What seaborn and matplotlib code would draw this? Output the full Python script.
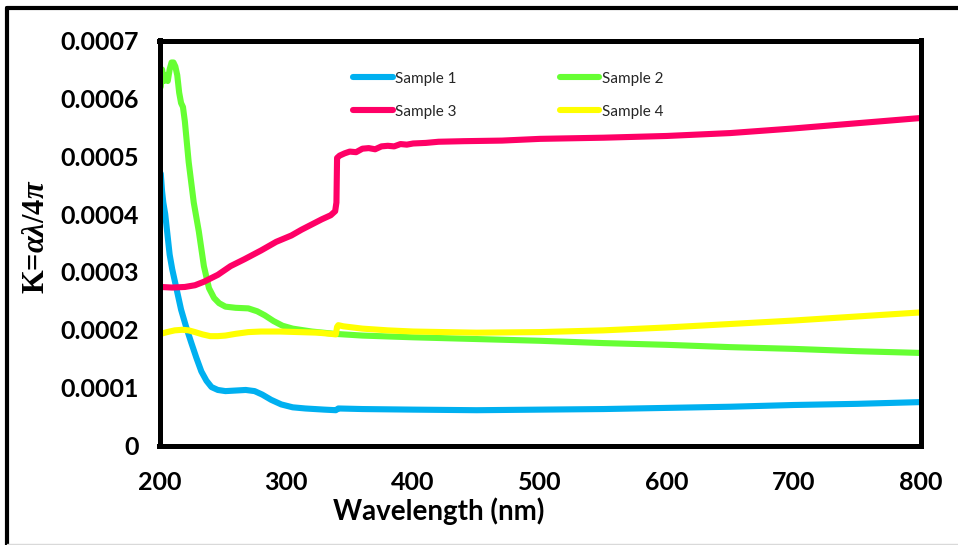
import numpy as np
import pandas as pd
import matplotlib
matplotlib.use("Agg")
import matplotlib.pyplot as plt
from matplotlib.lines import Line2D
import seaborn as sns

# ---- data: extinction coefficient K versus wavelength ----
s1_wl = [201, 202, 203, 204.5, 206, 208, 210, 213, 217, 221, 225, 229, 233, 237, 241,
         246, 252, 260, 268, 275, 281, 288, 296, 305, 315, 330, 339, 341, 360, 400,
         450, 500, 550, 600, 650, 700, 750, 800]
s1_k = [0.00047, 0.00044, 0.00042, 0.00040, 0.00037, 0.00033, 0.000305, 0.000275,
        0.000235, 0.000205, 0.000178, 0.000152, 0.000128, 0.000112, 0.000101,
        0.000096, 0.000094, 0.000095, 0.000096, 0.000094, 0.000088, 0.000079,
        0.000071, 0.000066, 0.000064, 0.000062, 0.000061, 0.000064, 0.000063,
        0.000062, 0.000061, 0.000062, 0.000063, 0.000065, 0.000067, 0.00007,
        0.000072, 0.000075]

s2_wl = [201, 202, 203.5, 205, 206.5, 208, 209.5, 211, 212.5, 214, 215.5, 217, 218.5,
         220, 223, 227, 231, 235, 239, 243, 247, 252, 260, 270, 277, 283, 290, 297,
         305, 320, 338, 360, 400, 450, 500, 550, 600, 650, 700, 750, 800]
s2_k = [0.00062, 0.00065, 0.00063, 0.00064, 0.00063, 0.00065, 0.000662, 0.000662,
        0.000655, 0.00064, 0.00061, 0.000592, 0.000585, 0.00056, 0.00049, 0.00042,
        0.00037, 0.00031, 0.000272, 0.000255, 0.000246, 0.00024, 0.000238,
        0.000237, 0.000232, 0.000225, 0.000215, 0.000207, 0.000202, 0.000197,
        0.000193, 0.00019, 0.000187, 0.000184, 0.000181, 0.000177, 0.000174,
        0.00017, 0.000167, 0.000163, 0.00016]

s3_wl = [201, 210, 220, 228, 235, 246, 256, 267, 280, 292, 304, 312, 320, 328, 335,
         338.5, 339.5, 340, 342, 346, 350, 355, 360, 365, 370, 375, 380, 385, 390,
         395, 400, 410, 420, 440, 470, 500, 550, 600, 650, 700, 750, 800]
s3_k = [0.000274, 0.000273, 0.000274, 0.000277, 0.000283, 0.000295, 0.00031,
        0.000322, 0.000337, 0.000352, 0.000363, 0.000373, 0.000382, 0.000391,
        0.000398, 0.000405, 0.00042, 0.000497, 0.000501, 0.000505, 0.000508,
        0.000507, 0.000513, 0.000514, 0.000512, 0.000517, 0.000518, 0.000517,
        0.000521, 0.00052, 0.000522, 0.000523, 0.000525, 0.000526, 0.000527,
        0.00053, 0.000532, 0.000535, 0.00054, 0.000548, 0.000557, 0.000566]

s4_wl = [201, 206, 212, 218, 223, 228, 234, 240, 246, 252, 260, 270, 280, 295, 310,
         325, 335, 339, 340, 341, 345, 360, 380, 400, 450, 500, 550, 600, 650, 700,
         750, 800]
s4_k = [0.000193, 0.000196, 0.000199, 0.0002, 0.000199, 0.000196, 0.000192,
        0.000189, 0.000189, 0.00019, 0.000193, 0.000196, 0.000197, 0.000197,
        0.000196, 0.000195, 0.000193, 0.000192, 0.000205, 0.000208, 0.000206,
        0.000202, 0.000199, 0.000197, 0.000195, 0.000196, 0.000199, 0.000204,
        0.00021, 0.000216, 0.000223, 0.00023]

sample_names = ["Sample 1", "Sample 2", "Sample 3", "Sample 4"]
sample_colors = ["#00B0F0", "#66FF33", "#FF0066", "#FFFF00"]

x_ticks = [200, 300, 400, 500, 600, 700, 800]
y_ticks = [0, 0.0001, 0.0002, 0.0003, 0.0004, 0.0005, 0.0006, 0.0007]
y_tick_labels = ["0", "0.0001", "0.0002", "0.0003", "0.0004", "0.0005", "0.0006", "0.0007"]

frames = []
for name, wl, k in zip(sample_names, [s1_wl, s2_wl, s3_wl, s4_wl], [s1_k, s2_k, s3_k, s4_k]):
    frames.append(pd.DataFrame({"wavelength": wl, "K": k, "sample": name}))
df = pd.concat(frames, ignore_index=True)

# ---- style ----
sns.set_theme(style="white")
plt.rcParams["font.family"] = ["Lato", "DejaVu Sans"]
plt.rcParams["mathtext.fontset"] = "custom"
plt.rcParams["mathtext.rm"] = "Liberation Serif:bold"
plt.rcParams["mathtext.it"] = "Liberation Serif:italic:bold"
plt.rcParams["mathtext.bf"] = "Liberation Serif:bold"

fig = plt.figure(figsize=(9.58, 5.45), dpi=100)
ax = fig.add_axes([159.5 / 958, 1 - 445.5 / 545, 761 / 958, 405 / 545])

sns.lineplot(data=df, x="wavelength", y="K", hue="sample", hue_order=sample_names,
             palette=sample_colors, estimator=None, sort=False, linewidth=4.4,
             ax=ax, legend=False)
for ln in ax.get_lines():
    ln.set_solid_capstyle("round")
    ln.set_solid_joinstyle("round")

ax.set_xlim(200, 800)
ax.set_ylim(0, 0.0007)
ax.set_xticks(x_ticks)
ax.set_xticklabels([str(v) for v in x_ticks])
ax.set_yticks(y_ticks)
ax.set_yticklabels(y_tick_labels)

for sp in ax.spines.values():
    sp.set_linewidth(3.6)
    sp.set_color("black")
    sp.set_visible(True)

ax.tick_params(axis="both", direction="out", length=6, width=3, color="black",
               labelsize=18, labelcolor="black")
ax.tick_params(axis="y", pad=9)
ax.tick_params(axis="x", pad=12)
for lab in ax.get_xticklabels() + ax.get_yticklabels():
    lab.set_fontweight("bold")

ax.set_xlabel("Wavelength (nm)", fontsize=20, fontweight="bold", color="black")
ax.xaxis.set_label_coords(0.367, -0.128)
ax.set_ylabel(r"K=$\alpha\lambda$/4$\pi$", fontsize=22, fontweight="bold",
              color="black", family="Liberation Serif")
ax.yaxis.set_label_coords(-0.143, 0.516)

# legend filled column by column: put entries so rows read 1,2 / 3,4
order = [0, 2, 1, 3]
handles = [Line2D([0], [0], color=sample_colors[i], lw=4.4, solid_capstyle="round")
           for i in order]
labels = [sample_names[i] for i in order]
ax.legend(handles, labels, loc="center", bbox_to_anchor=(0.458, 0.865),
          ncol=2, frameon=False, fontsize=11, handlelength=2.6, handletextpad=0.15,
          columnspacing=6.75, labelspacing=1.25, borderpad=0)

# outer frame of the figure
fig.add_artist(Line2D([7 / 958, 7 / 958], [0, 1 - 8 / 545], transform=fig.transFigure,
                      color="black", lw=3))
fig.add_artist(Line2D([7 / 958, 1], [1 - 8 / 545, 1 - 8 / 545], transform=fig.transFigure,
                      color="black", lw=3))
fig.add_artist(Line2D([7 / 958, 1], [1.5 / 545, 1.5 / 545], transform=fig.transFigure,
                      color="#d9d9d9", lw=1))

fig.savefig("out.png", dpi=100)
